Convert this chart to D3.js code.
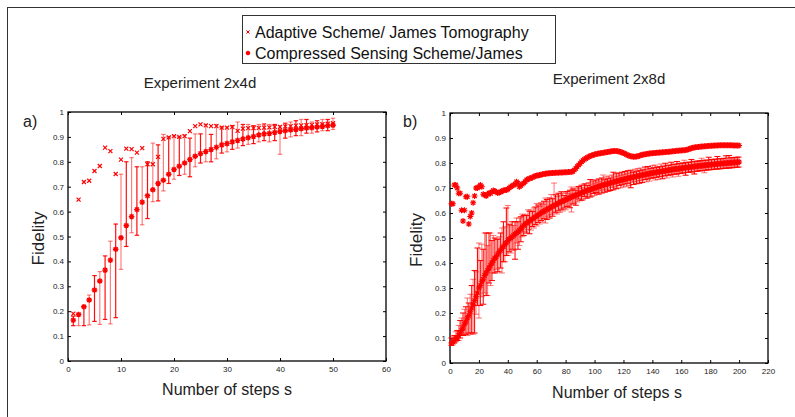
<!DOCTYPE html>
<html>
<head>
<meta charset="utf-8">
<script src="https://cdn.jsdelivr.net/npm/d3@7"></script>
<style>
  body { margin: 0; background: #fff; }
  svg { display: block; font-family: "Liberation Sans", Arial, sans-serif; }
  .tick text { font-size: 8px; fill: #222; }
  .tick line { stroke: #000; }
</style>
</head>
<body>
<svg id="canvas" width="795" height="417"></svg>
<script>
// Panel a) Experiment 2x4d, steps 1..50
let stepsA = d3.range(1, 51)
let adaptiveA = [0.19,0.648,0.719,0.724,0.763,0.783,0.857,0.843,0.751,0.809,
  0.853,0.851,0.837,0.855,0.79,0.79,0.82,0.892,0.898,0.903,
  0.90,0.903,0.923,0.943,0.95,0.946,0.943,0.943,0.937,0.937,
  0.94,0.924,0.933,0.935,0.935,0.936,0.937,0.938,0.94,0.94,
  0.942,0.943,0.945,0.946,0.947,0.948,0.95,0.951,0.953,0.955]
let csMeanA = [0.164,0.187,0.218,0.245,0.285,0.321,0.365,0.405,0.449,0.495,
  0.544,0.58,0.608,0.638,0.664,0.688,0.713,0.726,0.75,0.769,
  0.782,0.795,0.809,0.822,0.833,0.841,0.849,0.858,0.868,0.873,
  0.88,0.886,0.892,0.897,0.902,0.908,0.912,0.914,0.918,0.922,
  0.925,0.928,0.93,0.933,0.936,0.937,0.94,0.942,0.945,0.947]
let csLowA = [0.142,0.142,0.142,0.145,0.159,0.147,0.167,0.149,0.174,0.368,
  0.46,0.515,0.505,0.547,0.572,0.64,0.643,0.683,0.713,0.73,
  0.745,0.75,0.74,0.78,0.795,0.8,0.8,0.812,0.835,0.84,
  0.85,0.855,0.865,0.87,0.873,0.88,0.885,0.88,0.885,0.83,
  0.895,0.9,0.905,0.905,0.915,0.915,0.92,0.925,0.925,0.93]
let csHighA = [0.18,0.19,0.22,0.265,0.343,0.359,0.422,0.481,0.55,0.75,
  0.80,0.817,0.78,0.78,0.80,0.875,0.868,0.91,0.90,0.905,
  0.90,0.908,0.895,0.912,0.912,0.95,0.91,0.95,0.94,0.94,
  0.945,0.96,0.95,0.95,0.945,0.95,0.952,0.95,0.95,0.945,
  0.955,0.96,0.965,0.97,0.97,0.96,0.965,0.97,0.97,0.975]

// Panel b) Experiment 2x8d, steps 1..200
let stepsB = d3.range(1, 201)
let adaptiveB = [0.637,0.637,0.712,0.712,0.70,0.679,0.679,0.611,0.568,0.611,
  0.665,0.665,0.556,0.586,0.60,0.641,0.668,0.70,0.70,0.705,
  0.712,0.705,0.675,0.672,0.668,0.675,0.68,0.678,0.685,0.69,
  0.688,0.684,0.68,0.682,0.684,0.688,0.69,0.692,0.692,0.695,
  0.70,0.705,0.708,0.712,0.715,0.725,0.72,0.705,0.71,0.715,
  0.72,0.725,0.733,0.735,0.738,0.74,0.742,0.745,0.748,0.75,
  0.75,0.752,0.753,0.755,0.756,0.757,0.758,0.759,0.759,0.76,
  0.76,0.76,0.761,0.761,0.761,0.762,0.762,0.762,0.763,0.763,
  0.763,0.764,0.764,0.765,0.766,0.772,0.778,0.786,0.792,0.798,
  0.805,0.81,0.815,0.818,0.822,0.825,0.828,0.83,0.832,0.834,
  0.836,0.837,0.838,0.839,0.84,0.841,0.842,0.843,0.844,0.845,
  0.846,0.847,0.848,0.848,0.848,0.847,0.846,0.844,0.842,0.84,
  0.837,0.834,0.831,0.829,0.827,0.826,0.825,0.825,0.826,0.827,
  0.829,0.831,0.833,0.834,0.835,0.836,0.837,0.838,0.839,0.839,
  0.84,0.84,0.841,0.841,0.842,0.842,0.843,0.843,0.844,0.844,
  0.845,0.845,0.846,0.847,0.847,0.848,0.849,0.849,0.85,0.85,
  0.851,0.851,0.852,0.853,0.855,0.857,0.859,0.861,0.862,0.863,
  0.864,0.864,0.865,0.866,0.866,0.867,0.867,0.868,0.868,0.869,
  0.869,0.869,0.87,0.87,0.87,0.871,0.871,0.871,0.871,0.871,
  0.871,0.871,0.871,0.871,0.871,0.87,0.87,0.87,0.87,0.87]
let csMeanB = [0.08,0.085,0.09,0.095,0.10,0.11,0.12,0.13,0.14,0.155,
  0.165,0.18,0.19,0.205,0.22,0.235,0.25,0.265,0.28,0.30,
  0.31,0.325,0.335,0.35,0.36,0.37,0.38,0.39,0.40,0.41,
  0.42,0.425,0.435,0.445,0.45,0.46,0.465,0.475,0.48,0.49,
  0.495,0.5,0.505,0.51,0.515,0.52,0.525,0.53,0.535,0.545,
  0.55,0.555,0.56,0.563,0.567,0.572,0.576,0.58,0.584,0.588,
  0.592,0.596,0.6,0.604,0.607,0.61,0.614,0.617,0.62,0.624,
  0.627,0.63,0.633,0.636,0.639,0.642,0.645,0.648,0.65,0.653,
  0.656,0.658,0.661,0.664,0.666,0.669,0.671,0.674,0.676,0.679,
  0.681,0.683,0.686,0.688,0.69,0.692,0.694,0.696,0.698,0.70,
  0.702,0.704,0.706,0.708,0.71,0.712,0.713,0.715,0.717,0.718,
  0.72,0.722,0.723,0.725,0.727,0.728,0.73,0.731,0.733,0.734,
  0.736,0.737,0.739,0.74,0.741,0.743,0.744,0.745,0.747,0.748,
  0.749,0.75,0.752,0.753,0.754,0.755,0.756,0.758,0.759,0.76,
  0.761,0.762,0.763,0.764,0.765,0.766,0.767,0.768,0.769,0.77,
  0.771,0.772,0.773,0.774,0.775,0.776,0.776,0.777,0.778,0.779,
  0.78,0.781,0.781,0.782,0.783,0.784,0.784,0.785,0.786,0.787,
  0.787,0.788,0.789,0.789,0.79,0.791,0.791,0.792,0.793,0.793,
  0.794,0.794,0.795,0.796,0.796,0.797,0.797,0.798,0.798,0.799,
  0.799,0.8,0.8,0.801,0.801,0.802,0.802,0.803,0.803,0.804]
// error bar extents above / below the mean
let errHiB = [.02,.02,.02,.03,.03,.04,.05,.05,.06,.06,
  .06,.08,.05,.07,.09,.10,.12,.10,.18,.18,
  .10,.15,.12,.17,.16,.10,.14,.13,.09,.10,
  .08,.07,.06,.06,.07,.08,.10,.07,.14,.14,
  .06,.05,.06,.04,.05,.06,.04,.05,.05,.05,
  .04,.04,.03,.05,.04,.04,.03,.04,.04,.05,
  .04,.03,.04,.03,.04,.05,.04,.03,.04,.05,
  .03,.09,.04,.03,.04,.03,.04,.03,.02,.03,
  .03,.02,.03,.04,.03,.03,.02,.03,.03,.02,
  .03,.02,.03,.03,.02,.03,.04,.02,.03,.02,
  .03,.02,.03,.02,.03,.04,.02,.03,.02,.03,
  .02,.03,.04,.02,.03,.02,.03,.02,.03,.02,
  .03,.02,.03,.02,.03,.02,.02,.03,.02,.03,
  .02,.03,.02,.02,.03,.02,.03,.02,.02,.03,
  .02,.03,.02,.02,.02,.03,.02,.02,.03,.02,
  .02,.02,.03,.02,.02,.02,.03,.02,.02,.02,
  .02,.03,.02,.02,.02,.02,.03,.02,.02,.02,
  .02,.02,.02,.03,.02,.02,.02,.02,.03,.02,
  .02,.02,.02,.02,.03,.02,.02,.02,.02,.02,
  .03,.02,.03,.02,.02,.02,.02,.02,.02,.02]
let errLoB = [.01,.01,.01,.01,.01,.02,.02,.02,.03,.04,
  .05,.07,.07,.09,.10,.12,.13,.07,.05,.12,
  .08,.06,.10,.07,.09,.10,.06,.08,.07,.05,
  .06,.05,.07,.08,.07,.10,.06,.07,.05,.06,
  .05,.06,.05,.06,.10,.04,.07,.06,.05,.04,
  .04,.03,.04,.03,.05,.04,.03,.04,.03,.04,
  .03,.04,.03,.04,.03,.05,.04,.03,.04,.03,
  .04,.03,.03,.04,.03,.04,.03,.04,.03,.04,
  .03,.03,.04,.06,.03,.03,.04,.03,.02,.03,
  .03,.03,.02,.03,.03,.02,.03,.03,.02,.03,
  .02,.03,.03,.02,.03,.02,.03,.02,.03,.03,
  .03,.02,.03,.02,.03,.03,.02,.03,.02,.03,
  .02,.03,.02,.03,.04,.02,.03,.02,.03,.02,
  .03,.02,.03,.02,.02,.03,.02,.03,.02,.02,
  .02,.03,.02,.03,.02,.02,.03,.02,.02,.03,
  .02,.02,.02,.03,.02,.02,.02,.03,.02,.02,
  .02,.02,.03,.02,.02,.02,.02,.02,.03,.02,
  .02,.02,.02,.02,.02,.03,.02,.02,.02,.02,
  .02,.02,.02,.02,.02,.02,.02,.02,.02,.02,
  .02,.02,.02,.02,.02,.02,.02,.02,.02,.02]

let yTicks = [0, 0.1, 0.2, 0.3, 0.4, 0.5, 0.6, 0.7, 0.8, 0.9, 1]
let xTicksA = [0, 10, 20, 30, 40, 50, 60]
let xTicksB = [0, 20, 40, 60, 80, 100, 120, 140, 160, 180, 200, 220]
let legendLabels = ['Adaptive Scheme/ James Tomography', 'Compressed Sensing Scheme/James']

let red = '#ff0000'
let svg = d3.select('#canvas')

// outer frame (top and left edges only are visible)
svg.append('line').attr('x1', 7).attr('x2', 795).attr('y1', 7.5).attr('y2', 7.5).attr('stroke', '#333')
svg.append('line').attr('x1', 7.5).attr('x2', 7.5).attr('y1', 7).attr('y2', 417).attr('stroke', '#333')

let xMark = 'M-2,-2L2,2M2,-2L-2,2'
let starMark = (r) => `M${-r},0H${r}M0,${-r}V${r}M${-r*0.72},${-r*0.72}L${r*0.72},${r*0.72}M${r*0.72},${-r*0.72}L${-r*0.72},${r*0.72}`

let drawPanel = (p) => {
    let g = svg.append('g')
    let x = d3.scaleLinear().domain(p.xDomain).range(p.xRange)
    let y = d3.scaleLinear().domain([0, 1]).range(p.yRange)

    // axes with inward ticks, MATLAB style
    g.append('g').attr('transform', `translate(0,${p.yRange[0]})`)
        .call(d3.axisBottom(x).tickValues(p.xTicks).tickSize(-3).tickPadding(5))
    g.append('g').attr('transform', `translate(0,${p.yRange[1]})`)
        .call(d3.axisTop(x).tickValues(p.xTicks).tickSize(-3).tickFormat(''))
    g.append('g').attr('transform', `translate(${p.xRange[0]},0)`)
        .call(d3.axisLeft(y).tickValues(yTicks).tickSize(-3).tickPadding(4).tickFormat(d => String(+d.toFixed(1))))
    g.append('g').attr('transform', `translate(${p.xRange[1]},0)`)
        .call(d3.axisRight(y).tickValues(yTicks).tickSize(-3).tickFormat(''))
    g.selectAll('.domain').remove()
    g.append('rect')
        .attr('x', p.xRange[0]).attr('y', p.yRange[1])
        .attr('width', p.xRange[1] - p.xRange[0]).attr('height', p.yRange[0] - p.yRange[1])
        .attr('fill', 'none').attr('stroke', '#000').attr('stroke-width', 1.3)

    // error bars
    let bars = g.append('g').selectAll('g')
        .data(p.steps.map((s, i) => ({s: s, lo: p.low[i], hi: p.high[i], i: i})))
        .enter().append('g')
        .attr('stroke', red)
        .attr('stroke-opacity', d => d.i % 2 ? 0.5 : 0.95)
        .attr('stroke-width', p.barWidth)
    bars.append('line')
        .attr('x1', d => x(d.s)).attr('x2', d => x(d.s))
        .attr('y1', d => y(d.lo)).attr('y2', d => y(d.hi))
    bars.append('line')
        .attr('x1', d => x(d.s) - p.cap).attr('x2', d => x(d.s) + p.cap)
        .attr('y1', d => y(d.lo)).attr('y2', d => y(d.lo))
    bars.append('line')
        .attr('x1', d => x(d.s) - p.cap).attr('x2', d => x(d.s) + p.cap)
        .attr('y1', d => y(d.hi)).attr('y2', d => y(d.hi))

    // adaptive scheme markers
    g.append('g').selectAll('path')
        .data(p.steps.map((s, i) => [s, p.adaptive[i]]))
        .enter().append('path')
        .attr('transform', d => `translate(${x(d[0])},${y(d[1])})`)
        .attr('d', p.adaptiveMark)
        .attr('fill', 'none').attr('stroke', red).attr('stroke-width', p.adaptiveStroke)

    // compressed sensing means
    g.append('g').selectAll('path')
        .data(p.steps.map((s, i) => [s, p.mean[i]]))
        .enter().append('path')
        .attr('transform', d => `translate(${x(d[0])},${y(d[1])})`)
        .attr('d', starMark(p.starR))
        .attr('fill', 'none').attr('stroke', red).attr('stroke-width', p.starStroke)

    // labels
    let cx = (p.xRange[0] + p.xRange[1]) / 2
    g.append('text').attr('x', cx + p.labelShift).attr('y', p.xLabelY)
        .attr('text-anchor', 'middle').attr('font-size', 16).attr('fill', '#222')
        .text('Number of steps s')
    g.append('text')
        .attr('transform', `translate(${p.yLabelX},${(p.yRange[0] + p.yRange[1]) / 2 + 2}) rotate(-90)`)
        .attr('text-anchor', 'middle').attr('font-size', 17).attr('fill', '#222')
        .text('Fidelity')
    g.append('text').attr('x', p.tagX).attr('y', 127).attr('font-size', 16).attr('fill', '#222').text(p.tag)
    g.append('text').attr('x', p.titleX).attr('y', p.titleY)
        .attr('text-anchor', 'middle').attr('font-size', 15).attr('fill', '#222').text(p.title)
}

drawPanel({
    xDomain: [0, 60], xRange: [68, 386], yRange: [361, 112], xTicks: xTicksA,
    steps: stepsA, adaptive: adaptiveA, mean: csMeanA, low: csLowA, high: csHighA,
    barWidth: 1.2, cap: 2.2, adaptiveMark: xMark, adaptiveStroke: 1.2,
    starR: 2.8, starStroke: 1.4,
    xLabelY: 395, labelShift: 0, yLabelX: 44, tag: 'a)', tagX: 23,
    title: 'Experiment 2x4d', titleX: 200, titleY: 88
})

drawPanel({
    xDomain: [0, 220], xRange: [450, 768], yRange: [363, 113], xTicks: xTicksB,
    steps: stepsB, adaptive: adaptiveB, mean: csMeanB, low: csMeanB.map((m, i) => m - errLoB[i]), high: csMeanB.map((m, i) => m + errHiB[i]),
    barWidth: 1.1, cap: 3, adaptiveMark: starMark(3), adaptiveStroke: 1.2,
    starR: 3, starStroke: 1.2,
    xLabelY: 398, labelShift: 8, yLabelX: 422, tag: 'b)', tagX: 403,
    title: 'Experiment 2x8d', titleX: 609, titleY: 84
})

// legend
let legend = svg.append('g')
legend.append('rect').attr('x', 242.5).attr('y', 15.5).attr('width', 313).attr('height', 48)
    .attr('fill', '#fff').attr('stroke', '#333')
legend.selectAll('text').data(legendLabels).enter().append('text')
    .attr('x', 255).attr('y', (d, i) => 37.5 + i * 21)
    .attr('font-size', 16).attr('fill', '#111').text(d => d)
legend.append('path').attr('transform', 'translate(248,32)').attr('d', 'M-1.6,-1.6L1.6,1.6M1.6,-1.6L-1.6,1.6')
    .attr('fill', 'none').attr('stroke', red).attr('stroke-width', 1)
legend.append('path').attr('transform', 'translate(248,53)').attr('d', starMark(2.2))
    .attr('fill', 'none').attr('stroke', red).attr('stroke-width', 1.4)
</script>
</body>
</html>
